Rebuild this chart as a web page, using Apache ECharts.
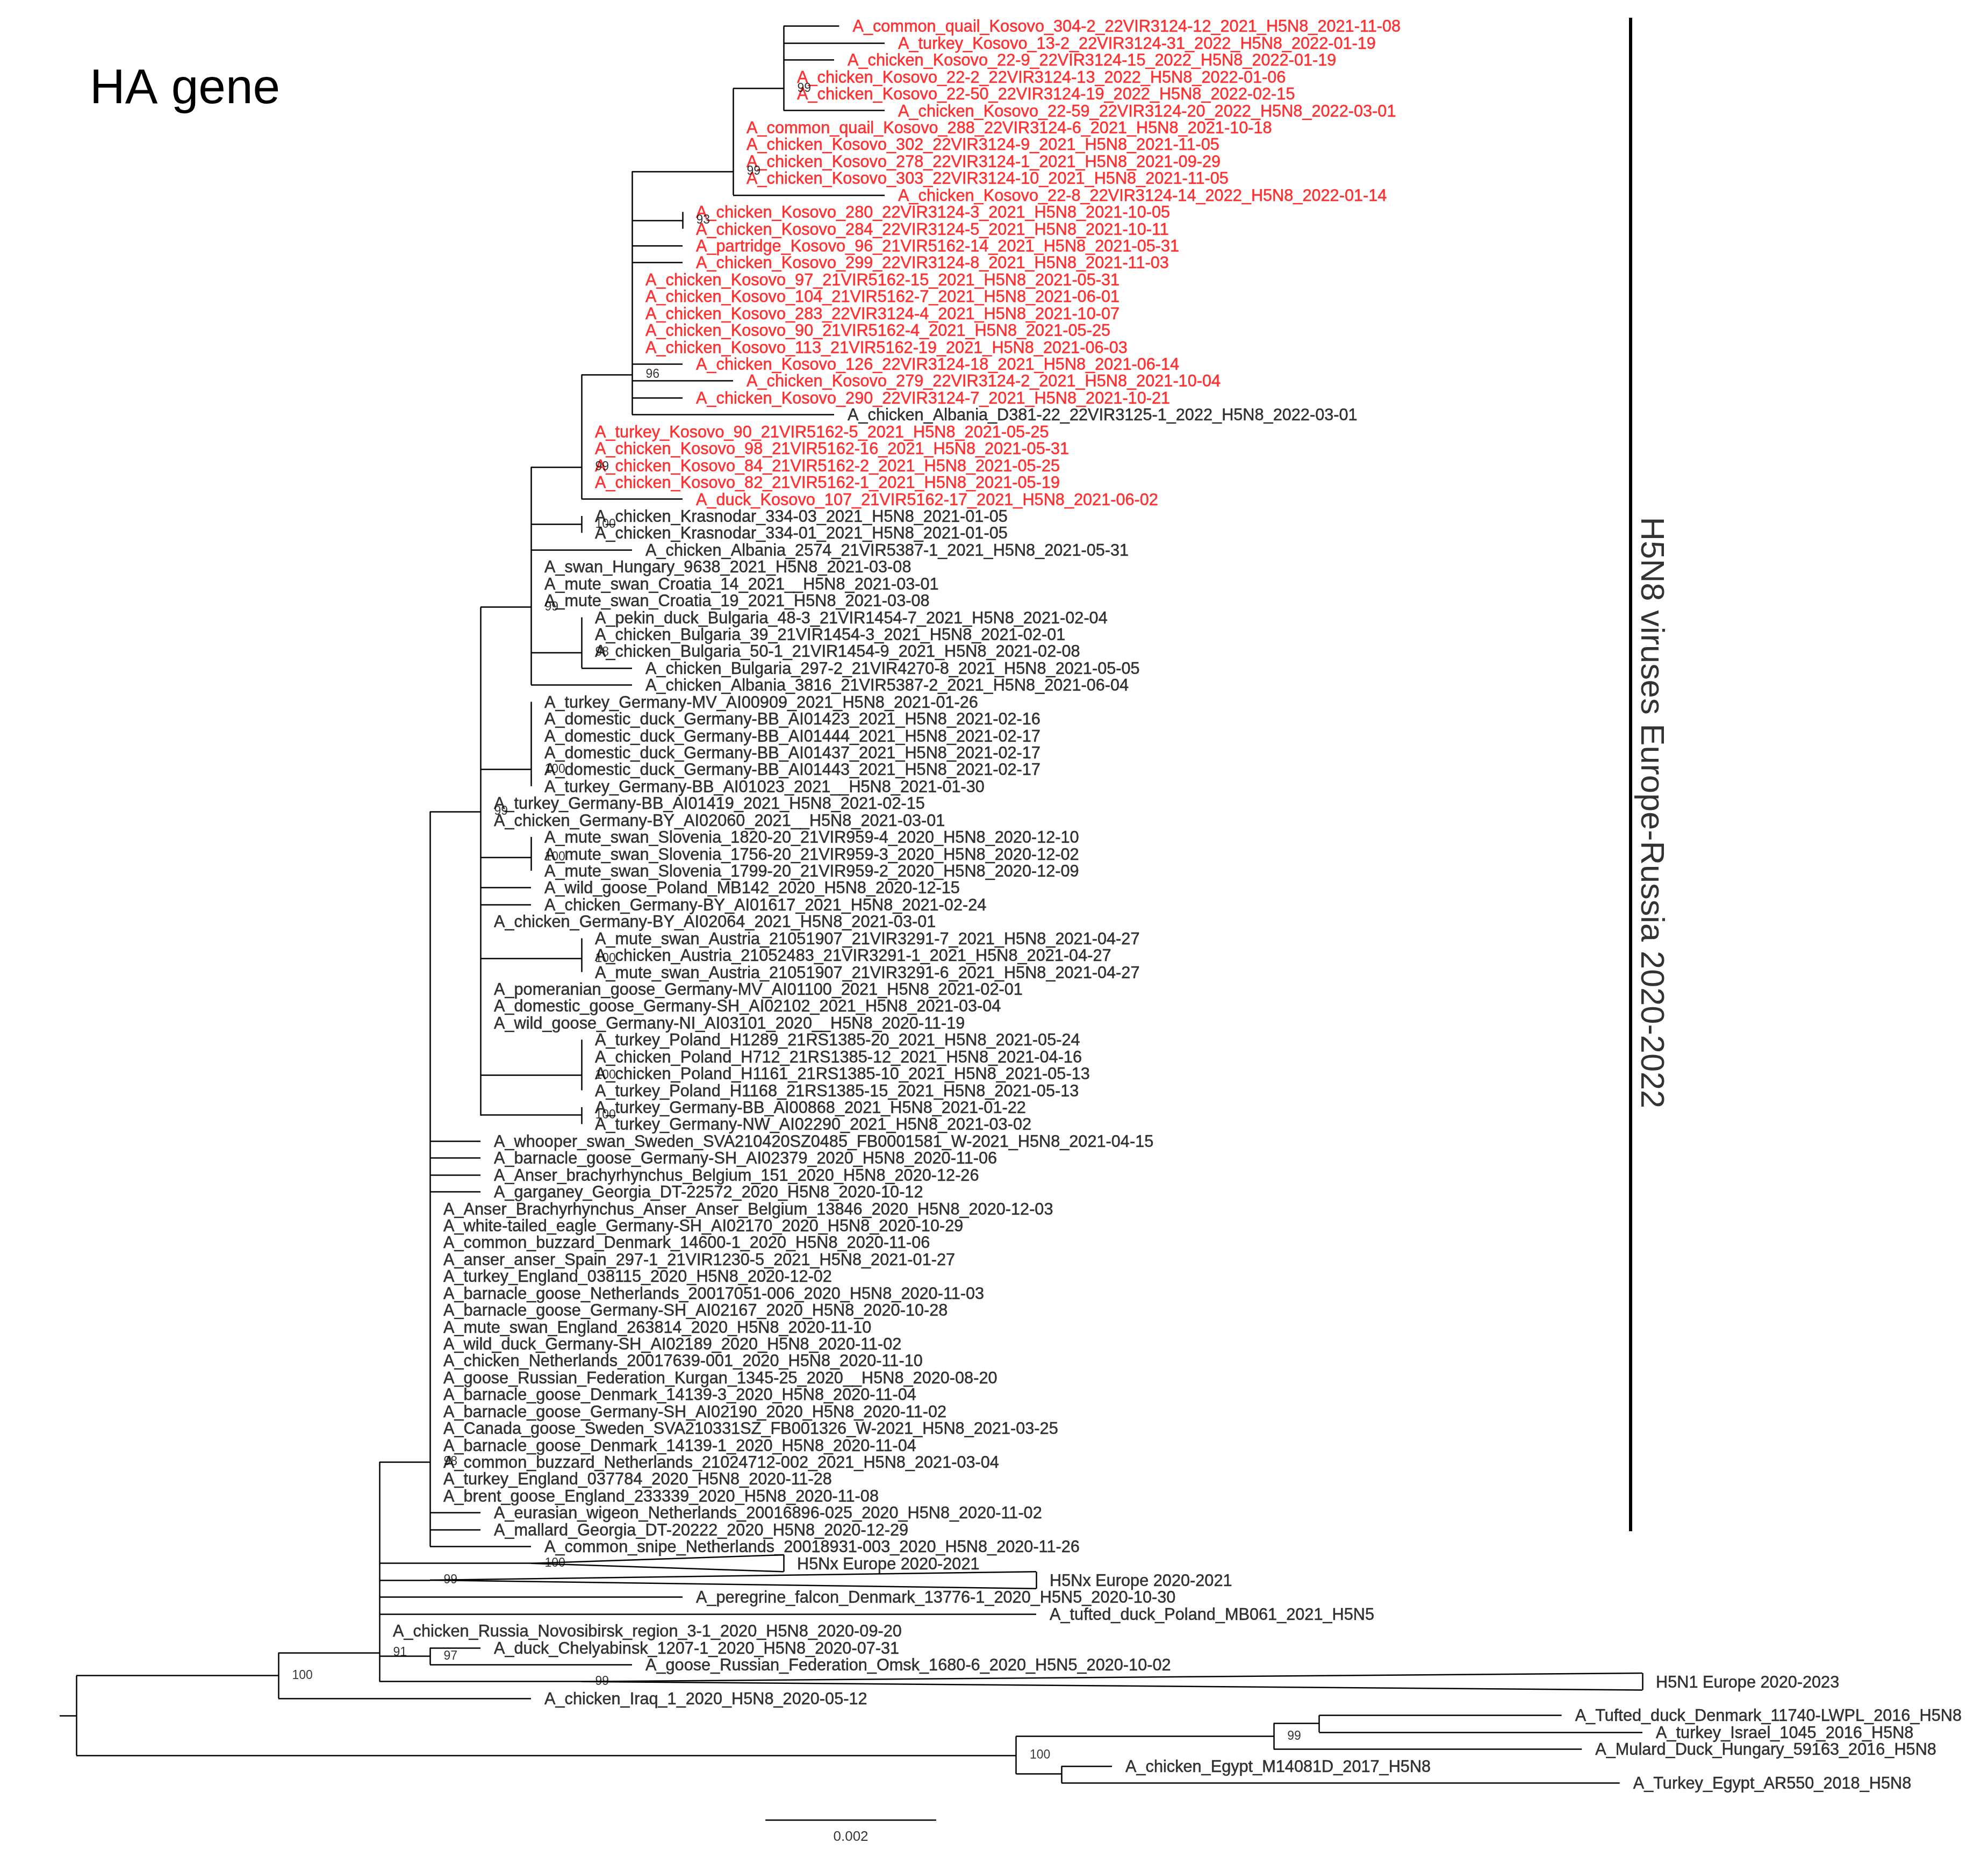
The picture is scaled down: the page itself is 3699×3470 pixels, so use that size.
<!DOCTYPE html>
<html>
<head>
<meta charset="UTF-8" />
<title>HA gene</title>
<script src="https://cdn.jsdelivr.net/npm/echarts@6/dist/echarts.min.js"></script>
<style>
  html, body { margin: 0; background: #fff; }
  #chart { width: 3699px; height: 3470px; }
</style>
</head>
<body>
<div id="chart"></div>
<script>
// tip labels, top to bottom. x values are read in substitutions from the root, y in rows
const tipLabels = [
  'A_common_quail_Kosovo_304-2_22VIR3124-12_2021_H5N8_2021-11-08',
  'A_turkey_Kosovo_13-2_22VIR3124-31_2022_H5N8_2022-01-19',
  'A_chicken_Kosovo_22-9_22VIR3124-15_2022_H5N8_2022-01-19',
  'A_chicken_Kosovo_22-2_22VIR3124-13_2022_H5N8_2022-01-06',
  'A_chicken_Kosovo_22-50_22VIR3124-19_2022_H5N8_2022-02-15',
  'A_chicken_Kosovo_22-59_22VIR3124-20_2022_H5N8_2022-03-01',
  'A_common_quail_Kosovo_288_22VIR3124-6_2021_H5N8_2021-10-18',
  'A_chicken_Kosovo_302_22VIR3124-9_2021_H5N8_2021-11-05',
  'A_chicken_Kosovo_278_22VIR3124-1_2021_H5N8_2021-09-29',
  'A_chicken_Kosovo_303_22VIR3124-10_2021_H5N8_2021-11-05',
  'A_chicken_Kosovo_22-8_22VIR3124-14_2022_H5N8_2022-01-14',
  'A_chicken_Kosovo_280_22VIR3124-3_2021_H5N8_2021-10-05',
  'A_chicken_Kosovo_284_22VIR3124-5_2021_H5N8_2021-10-11',
  'A_partridge_Kosovo_96_21VIR5162-14_2021_H5N8_2021-05-31',
  'A_chicken_Kosovo_299_22VIR3124-8_2021_H5N8_2021-11-03',
  'A_chicken_Kosovo_97_21VIR5162-15_2021_H5N8_2021-05-31',
  'A_chicken_Kosovo_104_21VIR5162-7_2021_H5N8_2021-06-01',
  'A_chicken_Kosovo_283_22VIR3124-4_2021_H5N8_2021-10-07',
  'A_chicken_Kosovo_90_21VIR5162-4_2021_H5N8_2021-05-25',
  'A_chicken_Kosovo_113_21VIR5162-19_2021_H5N8_2021-06-03',
  'A_chicken_Kosovo_126_22VIR3124-18_2021_H5N8_2021-06-14',
  'A_chicken_Kosovo_279_22VIR3124-2_2021_H5N8_2021-10-04',
  'A_chicken_Kosovo_290_22VIR3124-7_2021_H5N8_2021-10-21',
  'A_chicken_Albania_D381-22_22VIR3125-1_2022_H5N8_2022-03-01',
  'A_turkey_Kosovo_90_21VIR5162-5_2021_H5N8_2021-05-25',
  'A_chicken_Kosovo_98_21VIR5162-16_2021_H5N8_2021-05-31',
  'A_chicken_Kosovo_84_21VIR5162-2_2021_H5N8_2021-05-25',
  'A_chicken_Kosovo_82_21VIR5162-1_2021_H5N8_2021-05-19',
  'A_duck_Kosovo_107_21VIR5162-17_2021_H5N8_2021-06-02',
  'A_chicken_Krasnodar_334-03_2021_H5N8_2021-01-05',
  'A_chicken_Krasnodar_334-01_2021_H5N8_2021-01-05',
  'A_chicken_Albania_2574_21VIR5387-1_2021_H5N8_2021-05-31',
  'A_swan_Hungary_9638_2021_H5N8_2021-03-08',
  'A_mute_swan_Croatia_14_2021__H5N8_2021-03-01',
  'A_mute_swan_Croatia_19_2021_H5N8_2021-03-08',
  'A_pekin_duck_Bulgaria_48-3_21VIR1454-7_2021_H5N8_2021-02-04',
  'A_chicken_Bulgaria_39_21VIR1454-3_2021_H5N8_2021-02-01',
  'A_chicken_Bulgaria_50-1_21VIR1454-9_2021_H5N8_2021-02-08',
  'A_chicken_Bulgaria_297-2_21VIR4270-8_2021_H5N8_2021-05-05',
  'A_chicken_Albania_3816_21VIR5387-2_2021_H5N8_2021-06-04',
  'A_turkey_Germany-MV_AI00909_2021_H5N8_2021-01-26',
  'A_domestic_duck_Germany-BB_AI01423_2021_H5N8_2021-02-16',
  'A_domestic_duck_Germany-BB_AI01444_2021_H5N8_2021-02-17',
  'A_domestic_duck_Germany-BB_AI01437_2021_H5N8_2021-02-17',
  'A_domestic_duck_Germany-BB_AI01443_2021_H5N8_2021-02-17',
  'A_turkey_Germany-BB_AI01023_2021__H5N8_2021-01-30',
  'A_turkey_Germany-BB_AI01419_2021_H5N8_2021-02-15',
  'A_chicken_Germany-BY_AI02060_2021__H5N8_2021-03-01',
  'A_mute_swan_Slovenia_1820-20_21VIR959-4_2020_H5N8_2020-12-10',
  'A_mute_swan_Slovenia_1756-20_21VIR959-3_2020_H5N8_2020-12-02',
  'A_mute_swan_Slovenia_1799-20_21VIR959-2_2020_H5N8_2020-12-09',
  'A_wild_goose_Poland_MB142_2020_H5N8_2020-12-15',
  'A_chicken_Germany-BY_AI01617_2021_H5N8_2021-02-24',
  'A_chicken_Germany-BY_AI02064_2021_H5N8_2021-03-01',
  'A_mute_swan_Austria_21051907_21VIR3291-7_2021_H5N8_2021-04-27',
  'A_chicken_Austria_21052483_21VIR3291-1_2021_H5N8_2021-04-27',
  'A_mute_swan_Austria_21051907_21VIR3291-6_2021_H5N8_2021-04-27',
  'A_pomeranian_goose_Germany-MV_AI01100_2021_H5N8_2021-02-01',
  'A_domestic_goose_Germany-SH_AI02102_2021_H5N8_2021-03-04',
  'A_wild_goose_Germany-NI_AI03101_2020__H5N8_2020-11-19',
  'A_turkey_Poland_H1289_21RS1385-20_2021_H5N8_2021-05-24',
  'A_chicken_Poland_H712_21RS1385-12_2021_H5N8_2021-04-16',
  'A_chicken_Poland_H1161_21RS1385-10_2021_H5N8_2021-05-13',
  'A_turkey_Poland_H1168_21RS1385-15_2021_H5N8_2021-05-13',
  'A_turkey_Germany-BB_AI00868_2021_H5N8_2021-01-22',
  'A_turkey_Germany-NW_AI02290_2021_H5N8_2021-03-02',
  'A_whooper_swan_Sweden_SVA210420SZ0485_FB0001581_W-2021_H5N8_2021-04-15',
  'A_barnacle_goose_Germany-SH_AI02379_2020_H5N8_2020-11-06',
  'A_Anser_brachyrhynchus_Belgium_151_2020_H5N8_2020-12-26',
  'A_garganey_Georgia_DT-22572_2020_H5N8_2020-10-12',
  'A_Anser_Brachyrhynchus_Anser_Anser_Belgium_13846_2020_H5N8_2020-12-03',
  'A_white-tailed_eagle_Germany-SH_AI02170_2020_H5N8_2020-10-29',
  'A_common_buzzard_Denmark_14600-1_2020_H5N8_2020-11-06',
  'A_anser_anser_Spain_297-1_21VIR1230-5_2021_H5N8_2021-01-27',
  'A_turkey_England_038115_2020_H5N8_2020-12-02',
  'A_barnacle_goose_Netherlands_20017051-006_2020_H5N8_2020-11-03',
  'A_barnacle_goose_Germany-SH_AI02167_2020_H5N8_2020-10-28',
  'A_mute_swan_England_263814_2020_H5N8_2020-11-10',
  'A_wild_duck_Germany-SH_AI02189_2020_H5N8_2020-11-02',
  'A_chicken_Netherlands_20017639-001_2020_H5N8_2020-11-10',
  'A_goose_Russian_Federation_Kurgan_1345-25_2020__H5N8_2020-08-20',
  'A_barnacle_goose_Denmark_14139-3_2020_H5N8_2020-11-04',
  'A_barnacle_goose_Germany-SH_AI02190_2020_H5N8_2020-11-02',
  'A_Canada_goose_Sweden_SVA210331SZ_FB001326_W-2021_H5N8_2021-03-25',
  'A_barnacle_goose_Denmark_14139-1_2020_H5N8_2020-11-04',
  'A_common_buzzard_Netherlands_21024712-002_2021_H5N8_2021-03-04',
  'A_turkey_England_037784_2020_H5N8_2020-11-28',
  'A_brent_goose_England_233339_2020_H5N8_2020-11-08',
  'A_eurasian_wigeon_Netherlands_20016896-025_2020_H5N8_2020-11-02',
  'A_mallard_Georgia_DT-20222_2020_H5N8_2020-12-29',
  'A_common_snipe_Netherlands_20018931-003_2020_H5N8_2020-11-26',
  'H5Nx Europe 2020-2021',
  'H5Nx Europe 2020-2021',
  'A_peregrine_falcon_Denmark_13776-1_2020_H5N5_2020-10-30',
  'A_tufted_duck_Poland_MB061_2021_H5N5',
  'A_chicken_Russia_Novosibirsk_region_3-1_2020_H5N8_2020-09-20',
  'A_duck_Chelyabinsk_1207-1_2020_H5N8_2020-07-31',
  'A_goose_Russian_Federation_Omsk_1680-6_2020_H5N5_2020-10-02',
  'H5N1 Europe 2020-2023',
  'A_chicken_Iraq_1_2020_H5N8_2020-05-12',
  'A_Tufted_duck_Denmark_11740-LWPL_2016_H5N8',
  'A_turkey_Israel_1045_2016_H5N8',
  'A_Mulard_Duck_Hungary_59163_2016_H5N8',
  'A_chicken_Egypt_M14081D_2017_H5N8',
  'A_Turkey_Egypt_AR550_2018_H5N8'
];

// where each tip's branch starts and ends, same order as tipLabels
const tipStart = [
  14, 14, 14, 14, 14, 14, 13, 13, 13, 13,
  13, 12, 12, 11, 11, 11, 11, 11, 11, 11,
  11, 11, 11, 11, 10, 10, 10, 10, 10, 10,
  10, 9, 9, 9, 9, 10, 10, 10, 10, 9,
  9, 9, 9, 9, 9, 9, 8, 8, 9, 9,
  9, 8, 8, 8, 10, 10, 10, 8, 8, 8,
  10, 10, 10, 10, 10, 10, 7, 7, 7, 7,
  7, 7, 7, 7, 7, 7, 7, 7, 7, 7,
  7, 7, 7, 7, 7, 7, 7, 7, 7, 7,
  7, 14, 19, 6, 6, 6, 7, 7, 31, 4,
  24.6, 24.6, 23.7, 19.5, 19.5
];
const tipEnd = [
  15.1, 16, 15, 14, 14, 16, 13, 13, 13, 13,
  16, 12, 12, 12, 12, 11, 11, 11, 11, 11,
  12, 13, 12, 15, 10, 10, 10, 10, 12, 10,
  10, 11, 9, 9, 9, 10, 10, 10, 11, 11,
  9, 9, 9, 9, 9, 9, 8, 8, 9, 9,
  9, 9, 9, 8, 10, 10, 10, 8, 8, 8,
  10, 10, 10, 10, 10, 10, 8, 8, 8, 8,
  7, 7, 7, 7, 7, 7, 7, 7, 7, 7,
  7, 7, 7, 7, 7, 7, 7, 7, 8, 8,
  9, 14, 19, 12, 19, 6, 8, 11, 31, 9,
  29.4, 31, 29.8, 20.5, 30.55
];
const kosovoRows = [
  0, 1, 2, 3, 4, 5, 6, 7, 8, 9, 10, 11, 12, 13, 14, 15, 16, 17, 18, 19, 20, 21, 22,
  24, 25, 26, 27, 28
];

// internal nodes
const nodeX = [0, 4, 6, 7, 7, 8, 9, 10, 11, 13, 14, 12, 10, 10, 9, 9, 10, 10, 10, 18.6, 23.7, 24.6, 19.5];
const nodeParent = [-0.33, 0, 4, 6, 6, 7, 8, 9, 10, 11, 13, 11, 9, 9, 8, 8, 8, 8, 8, 0, 18.6, 23.7, 18.6];
const nodeRow = [100.01, 97.65, 96.29, 96.5, 85, 46.5, 34.4, 26.1, 20.63, 8.6, 3.69, 11.5, 29.5, 37.08, 44, 49.2, 55.2, 62.1, 64.46, 102.37, 101.24, 100.47, 103.47];
const nodeTop = [97.65, 96.29, 85, 96, 46.5, 34.4, 26.1, 20.63, 8.6, 3.69, 0, 11, 29, 35, 40, 48, 54, 60, 64, 101.24, 100.47, 100, 103];
const nodeBottom = [102.37, 99, 98, 97, 90, 64.5, 39, 28, 23, 10, 5, 12, 30, 38, 45, 50, 56, 63, 65, 103.47, 102, 101, 104];
const nodeSupport = ['', '100', '91', '97', '98', '99', '99', '99', '96', '99', '99', '93', '100', '98', '100', '100', '100', '100', '100', '100', '99', '', ''];

// collapsed clades (triangles)
const cladeRow = [91, 92, 98];
const cladeParent = [6, 6, 6];
const cladeApex = [9, 7, 10];
const cladeBase = [14, 19, 31];
const cladeSupport = ['100', '99', '99'];

const sideBarX = 30.76;
const sideBarRows = [-0.49, 89.1];
const sideText = 'H5N8 viruses Europe-Russia 2020-2022';
const sideTextPos = [31.16, 46.56];

const scaleBarStart = 13.64;
const scaleBarEnd = 17.02;
const scaleBarRow = 106.2;
const scaleBarLabel = '0.002';

const FONT = '"Liberation Sans", Arial, sans-serif';

let segments = [];
function addSegment(x0, y0, x1, y1) {
  segments.push({ coords: [[x0, y0], [x1, y1]] });
}

tipLabels.forEach((name, i) => {
  if (tipEnd[i] > tipStart[i]) addSegment(tipStart[i], i, tipEnd[i], i);
});
nodeX.forEach((x, i) => {
  addSegment(nodeParent[i], nodeRow[i], x, nodeRow[i]);
  addSegment(x, nodeTop[i], x, nodeBottom[i]);
});
cladeRow.forEach((r, i) => {
  addSegment(cladeParent[i], r, cladeApex[i], r);
  addSegment(cladeApex[i], r, cladeBase[i], r - 0.5);
  addSegment(cladeBase[i], r - 0.5, cladeBase[i], r + 0.5);
  addSegment(cladeBase[i], r + 0.5, cladeApex[i], r);
});
addSegment(scaleBarStart, scaleBarRow, scaleBarEnd, scaleBarRow);

let tipPoints = tipLabels.map((name, i) => {
  let c = kosovoRows.includes(i) ? '#ff0000' : '#000000';
  return {
    name: name,
    value: [tipEnd[i], i],
    // thin stroke, the reference text is a bit heavier than the plain font
    label: { color: c, textBorderColor: c, textBorderWidth: 0.5 }
  };
});

let supportPoints = [];
nodeSupport.forEach((s, i) => {
  if (s) supportPoints.push({ name: s, value: [nodeX[i], nodeRow[i]] });
});
cladeSupport.forEach((s, i) => {
  supportPoints.push({ name: s, value: [cladeApex[i], cladeRow[i]] });
});

let myChart = echarts.init(document.getElementById('chart'), null, { renderer: 'canvas' });

myChart.setOption({
  animation: false,
  backgroundColor: '#ffffff',
  title: {
    text: 'HA gene',
    left: 162,
    top: 116,
    textStyle: { fontFamily: FONT, fontSize: 91, fontWeight: 'normal', color: '#000000' }
  },
  grid: { left: 0, right: 0, top: 0, bottom: 0 },
  // axes hidden, 1 substitution = 94px, 1 row = 31.43px
  xAxis: { type: 'value', min: -1.5106, max: 37.84, show: false },
  yAxis: { type: 'value', min: -1.543, max: 108.86, inverse: true, show: false },
  series: [
    {
      type: 'lines',
      coordinateSystem: 'cartesian2d',
      silent: true,
      lineStyle: { color: '#000000', width: 2.5, opacity: 1 },
      data: segments
    },
    {
      type: 'lines',
      coordinateSystem: 'cartesian2d',
      silent: true,
      lineStyle: { color: '#000000', width: 6, opacity: 1 },
      data: [{ coords: [[sideBarX, sideBarRows[0]], [sideBarX, sideBarRows[1]]] }]
    },
    {
      type: 'scatter',
      silent: true,
      symbolSize: 1,
      itemStyle: { color: 'transparent' },
      label: {
        show: true,
        position: 'right',
        distance: 24.5,
        offset: [0, 2.5],
        fontFamily: FONT,
        fontSize: 30.7,
        formatter: p => p.name
      },
      data: tipPoints
    },
    {
      type: 'scatter',
      silent: true,
      symbolSize: 1,
      z: 3,
      itemStyle: { color: 'transparent' },
      label: {
        show: true,
        position: 'right',
        distance: 25,
        fontFamily: FONT,
        fontSize: 23,
        color: '#000000',
        formatter: p => p.name
      },
      data: supportPoints
    },
    {
      type: 'scatter',
      silent: true,
      symbolSize: 1,
      itemStyle: { color: 'transparent' },
      label: {
        show: true,
        position: 'inside',
        rotate: -90,
        fontFamily: FONT,
        fontSize: 61.3,
        color: '#000000',
        formatter: p => p.name
      },
      data: [{ name: sideText, value: sideTextPos }]
    },
    {
      type: 'scatter',
      silent: true,
      symbolSize: 1,
      itemStyle: { color: 'transparent' },
      label: {
        show: true,
        position: 'bottom',
        distance: 18,
        fontFamily: FONT,
        fontSize: 26,
        color: '#000000',
        formatter: p => p.name
      },
      data: [{ name: scaleBarLabel, value: [(scaleBarStart + scaleBarEnd) / 2, scaleBarRow] }]
    }
  ]
});
</script>
</body>
</html>
